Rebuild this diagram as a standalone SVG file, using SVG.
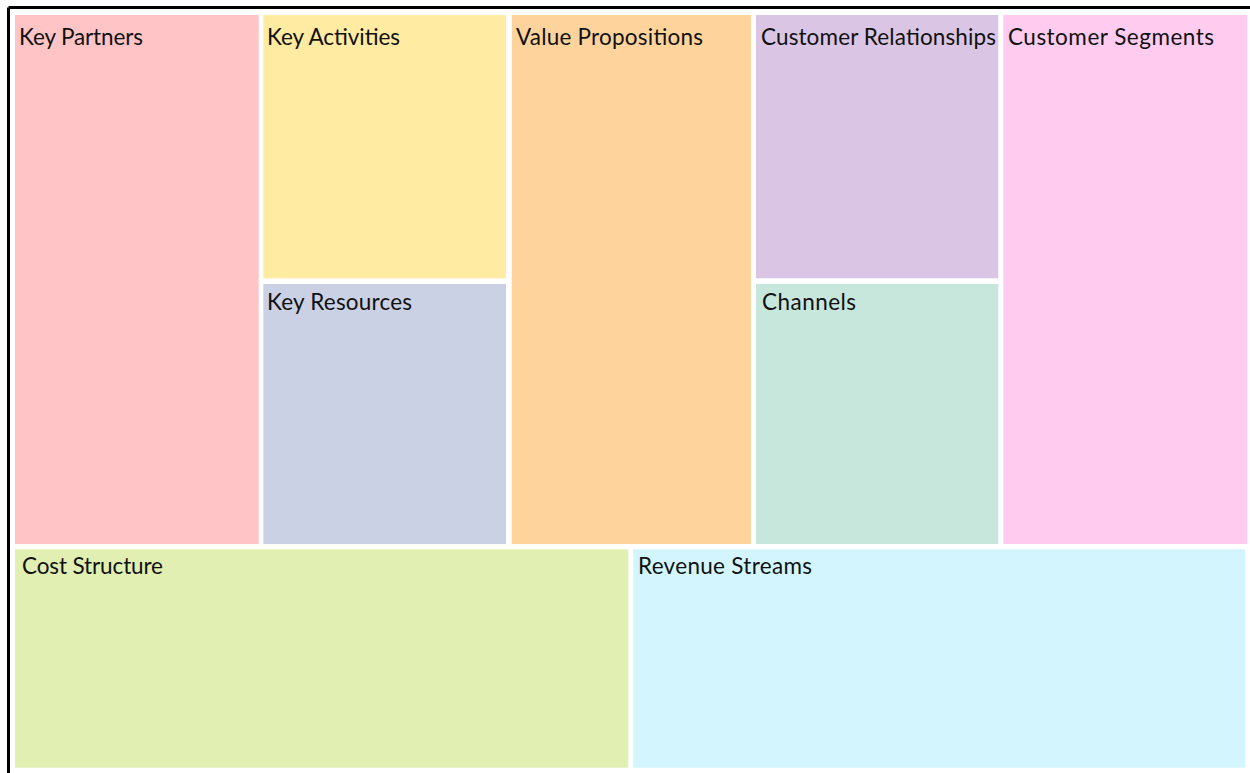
<svg xmlns="http://www.w3.org/2000/svg" width="1250" height="773" viewBox="0 0 1250 773">
<style>
.lbl{font-family:Lato,"Open Sans","Liberation Sans",sans-serif;font-size:22.5px;fill:#111}
</style>
<rect x="0" y="0" width="1250" height="773" fill="#ffffff"/>
<g id="frame">
<line x1="8.5" y1="7.5" x2="1250" y2="7.5" stroke="#000" stroke-width="3"/>
<line x1="8.5" y1="7.5" x2="8.5" y2="773" stroke="#000" stroke-width="3"/>
</g>
<g id="key-partners"><rect x="15" y="15" width="243.7" height="529" fill="#FFC4C6"/><text class="lbl" x="19" y="45" textLength="124">Key Partners</text></g>
<g id="key-activities"><rect x="263.3" y="15" width="242.7" height="263.3" fill="#FFEBA1"/><text class="lbl" x="267" y="45" textLength="133">Key Activities</text></g>
<g id="key-resources"><rect x="263.3" y="284" width="242.7" height="260" fill="#CBD1E4"/><text class="lbl" x="267" y="310" textLength="145">Key Resources</text></g>
<g id="value-propositions"><rect x="511.7" y="15" width="239.3" height="529" fill="#FFD39C"/><text class="lbl" x="516" y="45" textLength="187">Value Propositions</text></g>
<g id="customer-relationships"><rect x="756" y="15" width="242.3" height="263.3" fill="#DAC6E4"/><text class="lbl" x="761" y="45" textLength="235">Customer Relationships</text></g>
<g id="channels"><rect x="756" y="284" width="242.3" height="260" fill="#C7E7DD"/><text class="lbl" x="762" y="310" textLength="94">Channels</text></g>
<g id="customer-segments"><rect x="1003.3" y="15" width="244" height="529" fill="#FFCCEF"/><text class="lbl" x="1008" y="45" textLength="206">Customer Segments</text></g>
<g id="cost-structure"><rect x="15" y="549.3" width="613.3" height="218.4" fill="#E1EFB3"/><text class="lbl" x="22" y="574" textLength="141">Cost Structure</text></g>
<g id="revenue-streams"><rect x="633.3" y="549.3" width="612" height="218.4" fill="#D2F5FE"/><text class="lbl" x="638" y="574" textLength="174">Revenue Streams</text></g>
<g id="connectors"/>
</svg>
